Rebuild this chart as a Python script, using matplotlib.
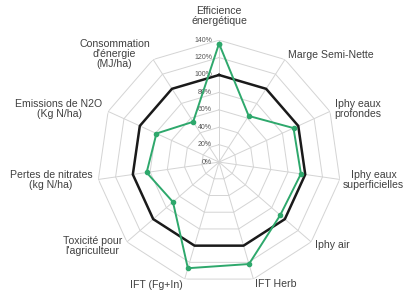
import numpy as np
import matplotlib
matplotlib.use('Agg')
import matplotlib.pyplot as plt

plt.rcParams['font.family'] = ['Liberation Sans', 'DejaVu Sans']

# axes du radar, dans le sens horaire depuis le haut
axes_labels = ['Efficience\nénergétique', 'Marge Semi-Nette', 'Iphy eaux\nprofondes',
               'Iphy eaux\nsuperficielles', 'Iphy air', 'IFT Herb', 'IFT (Fg+In)',
               'Toxicité pour\nl\'agriculteur', 'Pertes de nitrates\n(kg N/ha)',
               'Emissions de N2O\n(Kg N/ha)', 'Consommation\nd\'énergie\n(MJ/ha)']
reference = [100, 100, 100, 100, 100, 100, 100, 100, 100, 100, 100]
systeme = [136, 63, 94, 95, 93, 122, 127, 70, 84, 79, 55]
rings = [0, 20, 40, 60, 80, 100, 120, 140]

n = len(axes_labels)
angles = np.linspace(0, 2 * np.pi, n, endpoint=False)
ang_c = np.append(angles, angles[0])

fig = plt.figure(figsize=(4.06, 2.91), dpi=100)
ax = fig.add_axes([0.239, 0.024, 0.601, 0.838], projection='polar')
ax.set_theta_offset(np.pi / 2)
ax.set_theta_direction(-1)
ax.set_ylim(0, 140)
ax.grid(False)
ax.spines['polar'].set_visible(False)
ax.set_xticks([])
ax.set_yticks([])

grid_col = '#d4d4d4'
for r in rings[1:]:
    ax.plot(ang_c, [r] * (n + 1), color=grid_col, lw=0.7, zorder=1)
for a in angles:
    ax.plot([a, a], [0, 140], color=grid_col, lw=0.7, zorder=1)

for r in rings:
    ax.annotate(f'{r}%', xy=(0, r), xytext=(-5, 0), textcoords='offset points',
                ha='right', va='center', fontsize=5, color='#555555')

ax.plot(ang_c, reference + reference[:1], color='#1a1a1a', lw=1.8, zorder=3)
ax.plot(ang_c, systeme + systeme[:1], color='#2ea86c', lw=1.4, marker='o',
        markersize=3, zorder=4)

for i, (a, lab) in enumerate(zip(angles, axes_labels)):
    s = np.sin(a)
    if i == 0:
        ha, r = 'center', 168
    elif s > 0:
        ha, r = 'left', 146 if i != 3 else 144
    else:
        ha, r = 'right', 147
    ax.text(a, r, lab, ha=ha, va='center', fontsize=7.6, color='#404040',
            linespacing=1.0, multialignment='center', clip_on=False)

fig.savefig('out.png', dpi=100)
